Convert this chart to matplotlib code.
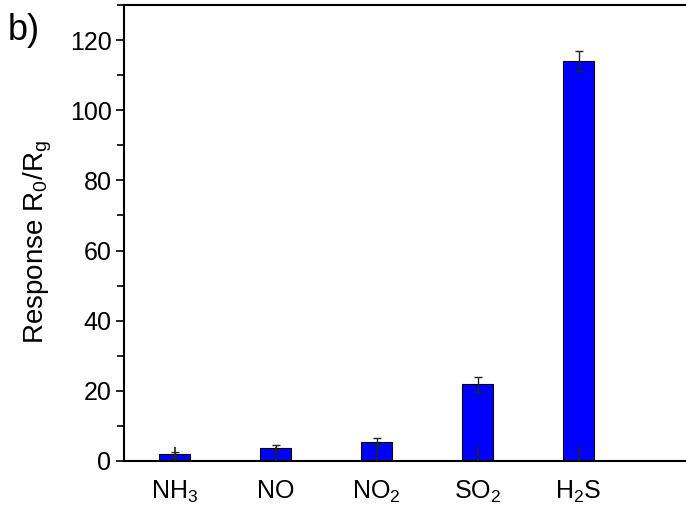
import matplotlib
matplotlib.use("Agg")
import matplotlib.pyplot as plt
from matplotlib.ticker import MultipleLocator

plt.rcParams['font.family'] = ['Liberation Sans', 'DejaVu Sans']
plt.rcParams['mathtext.fontset'] = 'custom'
plt.rcParams['mathtext.rm'] = 'Liberation Sans'
plt.rcParams['mathtext.it'] = 'Liberation Sans'

categories = ['NH$_3$', 'NO', 'NO$_2$', 'SO$_2$', 'H$_2$S']
responses = [2.0, 3.8, 5.5, 21.9, 114.0]
errors = [0.5, 0.8, 1.0, 2.1, 2.8]

fig = plt.figure(figsize=(6.86, 5.08), dpi=100)
W, H = 686, 508
left, right, top, bottom = 124, 730, 5, 461
ax = fig.add_axes([left / W, 1 - bottom / H, (right - left) / W, (bottom - top) / H])
ax.set_axisbelow(False)

x = list(range(1, len(categories) + 1))
ax.bar(x, responses, width=0.31, color='#0000ff', edgecolor='black', linewidth=0.8, zorder=1)
ax.errorbar(x, responses, yerr=errors, fmt='none', ecolor='#1a2a10', elinewidth=1.0,
            capsize=3, capthick=1.0, zorder=2)

ax.set_xlim(0.5, 6.5)
ax.set_ylim(0, 130)
ax.set_xticks(x)
ax.set_xticklabels(categories, fontsize=18)
ax.yaxis.set_major_locator(MultipleLocator(20))
ax.yaxis.set_minor_locator(MultipleLocator(10))
ax.tick_params(axis='y', which='major', direction='out', length=6, width=1.2, labelsize=18, pad=3)
ax.tick_params(axis='y', which='minor', direction='out', length=5, width=1.2)
ax.tick_params(axis='x', which='major', direction='in', length=10, width=1.2, pad=13,
               color='#222222')
for s in ax.spines.values():
    s.set_linewidth(1.5)

ax.set_ylabel('Response R$_0$/R$_g$', fontsize=20)
ax.yaxis.set_label_coords(-(left - 54) / (right - left), 1 - (242 - top) / (bottom - top))
fig.text(8 / W, 1 - 31 / H, 'b)', fontsize=26, va='center', ha='left')

fig.savefig('out.png', dpi=100)
